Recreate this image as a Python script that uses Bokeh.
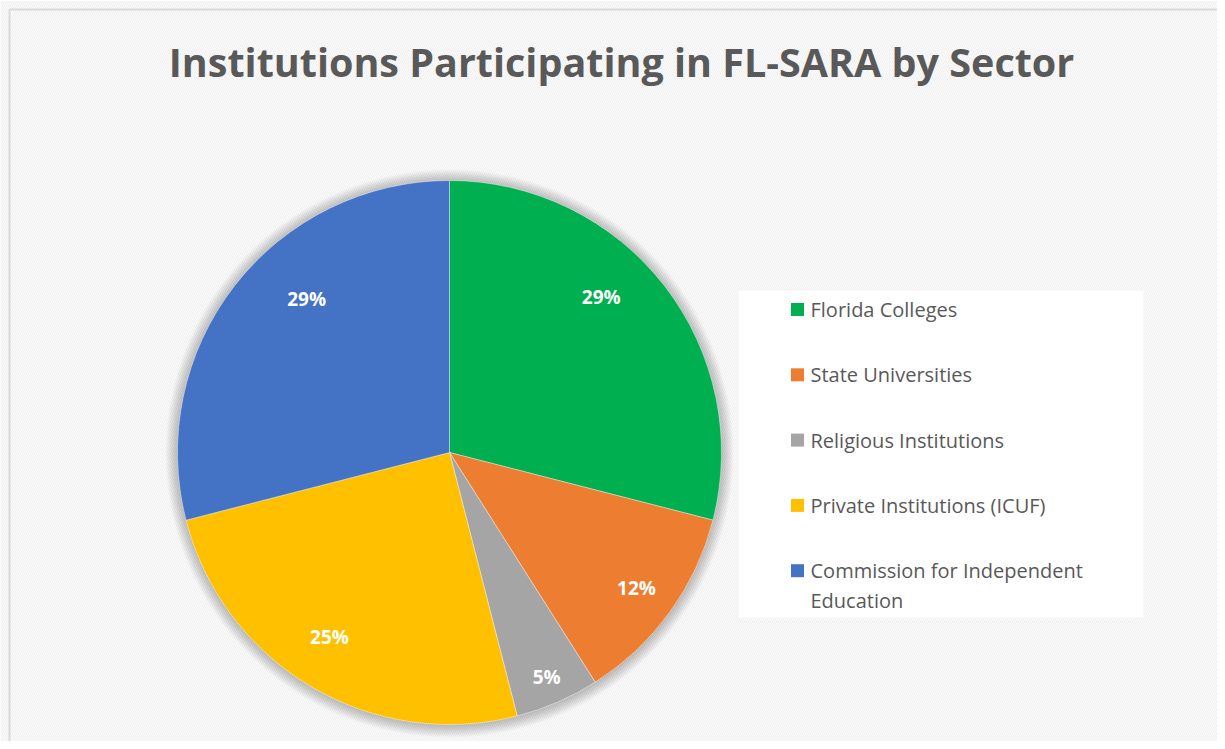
import numpy as np
from bokeh.plotting import figure
from bokeh.models import ColumnDataSource, Range1d
from bokeh.core.properties import value
from bokeh.embed import file_html
from bokeh.resources import INLINE

# ---------------- data ----------------
title_text = "Institutions Participating in FL-SARA by Sector"
sectors = ["Florida Colleges", "State Universities", "Religious Institutions",
           "Private Institutions (ICUF)", "Commission for Independent Education"]
shares = [29, 12, 5, 25, 29]
colors = ["#00B050", "#ED7D31", "#A5A5A5", "#FFC000", "#4472C4"]

# label placement style (radial fraction of radius, angular nudge in degrees)
label_rfrac = [0.80, 0.85, 0.90, 0.81, 0.77]
label_nudge = [8.0, 0.0, 0.0, -2.4, -9.2]

# ---------------- layout ----------------
W, H = 1217, 741
def fx(px):
    return px
def fy(py):
    return H - py

CX, CY, R = fx(449), fy(452), 272
FONT = "Open Sans"

p = figure(width=W, height=H, x_range=Range1d(0, W), y_range=Range1d(0, H),
           output_backend="svg", toolbar_location=None, min_border=0)
p.axis.visible = False
p.grid.visible = False
p.outline_line_color = None
p.background_fill_color = "white"
p.border_fill_color = "white"

# hatched background
p.quad(left=[0], right=[W], bottom=[0], top=[H], fill_color="white",
       line_color=None, hatch_pattern="\\", hatch_color="#f0f0f0",
       hatch_scale=4, hatch_weight=1.2)
# chart border (top and left visible)
p.segment(x0=[fx(9), fx(9)], y0=[fy(9), fy(9)], x1=[W, fx(9)], y1=[fy(9), 0],
          line_color="#d9d9d9", line_width=2)

# soft shadow
for k in range(1, 13):
    p.circle(x=[CX], y=[CY - 1], radius=R + k, fill_color="black",
             fill_alpha=0.018, line_color=None)

# pie
vals = np.array(shares, dtype=float)
frac = vals / vals.sum()
cum = np.concatenate([[0], np.cumsum(frac)])
start = np.pi / 2 - 2 * np.pi * cum[:-1]
end = np.pi / 2 - 2 * np.pi * cum[1:]
mid = (start + end) / 2
src = ColumnDataSource(dict(start=start, end=end, color=colors, sector=sectors))
p.wedge(x=CX, y=CY, radius=R, start_angle="start", end_angle="end",
        direction="clock", fill_color="color", line_color="white",
        line_alpha=0.5, line_width=0.8, source=src)

# data labels
lab = [f"{int(round(f * 100))}%" for f in frac]
la = mid + np.radians(label_nudge)
lr = np.array(label_rfrac) * R
p.text(x=CX + lr * np.cos(la), y=CY + lr * np.sin(la), text=lab,
       text_color="white", text_font=value(FONT), text_font_style="bold",
       text_font_size="19px", text_align="center", text_baseline="middle")

# title
p.text(x=[fx(621)], y=[fy(61)], text=[title_text], text_color="#595959",
       text_font=value(FONT), text_font_style="bold", text_font_size="39.5px",
       text_align="center", text_baseline="middle")

# legend box
p.quad(left=[fx(738)], right=[fx(1143)], top=[fy(290)], bottom=[fy(617)],
       fill_color="white", fill_alpha=0.92, line_color=None)

def wrap(s, n=27):
    words, lines, cur = s.split(), [], ""
    for w in words:
        if cur and len(cur) + 1 + len(w) > n:
            lines.append(cur)
            cur = w
        else:
            cur = (cur + " " + w).strip()
    lines.append(cur)
    return lines

y0, step, lh = 309, 65.3, 30
for i, (s, c) in enumerate(zip(sectors, colors)):
    yy = y0 + i * step
    p.scatter(x=[fx(797)], y=[fy(yy)], marker="square", size=13,
              fill_color=c, line_color=None)
    for j, line in enumerate(wrap(s)):
        p.text(x=[fx(810)], y=[fy(yy + j * lh)], text=[line], text_color="#595959",
               text_font=value(FONT), text_font_size="20px",
               text_align="left", text_baseline="middle")

open("out.html", "w").write(file_html(p, INLINE))
